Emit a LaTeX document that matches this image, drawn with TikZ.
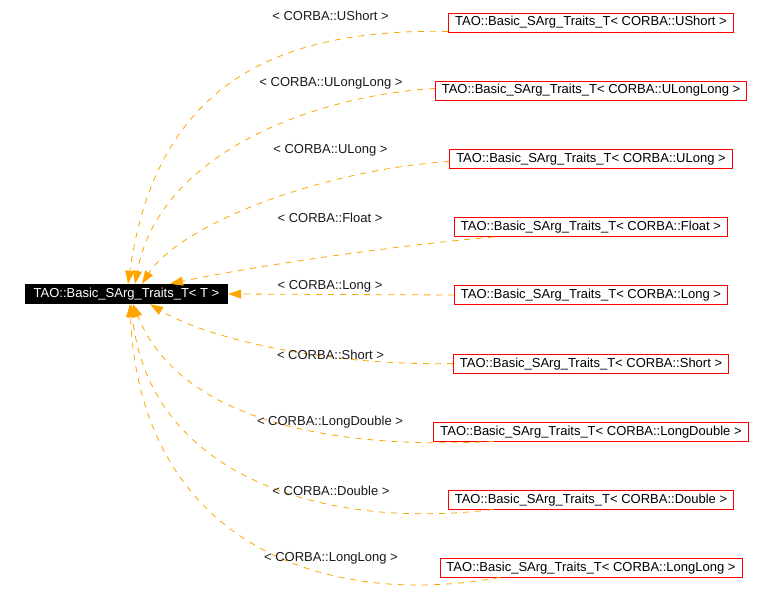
\documentclass[tikz,border=0pt]{standalone}
\usepackage{fontspec}
\setmainfont{Liberation Sans}
\usetikzlibrary{arrows.meta}
\definecolor{tmplorange}{HTML}{FFA500}

\begin{document}
\begin{tikzpicture}[x=1pt, y=-1pt,
		every node/.style={font=\fontsize{13}{15}\selectfont},
		basebox/.style={fill=black, text=white, minimum width=203pt, minimum height=20pt, inner sep=0pt, text height=9.5pt, text depth=2.5pt},
		instbox/.style={draw=red, line width=0.9pt, fill=white, minimum height=19pt, inner xsep=6.5pt, inner ysep=0pt, text height=9.5pt, text depth=2.5pt},
		tmpl/.style={draw=tmplorange, line width=0.8pt, dash pattern=on 6pt off 6pt, -{Triangle[length=13pt,width=9pt,fill=tmplorange]}},
		lbl/.style={inner sep=0pt, text=black!90}]
			%%%%% START %%%%%
			\useasboundingbox (0,0) rectangle (774,610);
			
			\node[basebox] (base) at (126.5, 294) {TAO::Basic\_SArg\_Traits\_T< T >};
			
			\node[instbox] (ushort) at (591, 22.5) {TAO::Basic\_SArg\_Traits\_T< CORBA::UShort >};
			\node[instbox] (ulonglong) at (591, 90.5) {TAO::Basic\_SArg\_Traits\_T< CORBA::ULongLong >};
			\node[instbox] (ulong) at (591, 158.5) {TAO::Basic\_SArg\_Traits\_T< CORBA::ULong >};
			\node[instbox] (float) at (591, 227) {TAO::Basic\_SArg\_Traits\_T< CORBA::Float >};
			\node[instbox] (long) at (591, 295) {TAO::Basic\_SArg\_Traits\_T< CORBA::Long >};
			\node[instbox] (short) at (591, 363.5) {TAO::Basic\_SArg\_Traits\_T< CORBA::Short >};
			\node[instbox] (longdouble) at (591, 431.5) {TAO::Basic\_SArg\_Traits\_T< CORBA::LongDouble >};
			\node[instbox] (double) at (591, 499.5) {TAO::Basic\_SArg\_Traits\_T< CORBA::Double >};
			\node[instbox] (longlong) at (591, 567.5) {TAO::Basic\_SArg\_Traits\_T< CORBA::LongLong >};
			
			\draw[tmpl] ([yshift=1pt]ushort.south west) .. controls (262, 28) and (155, 95) .. ([xshift=1.5pt]base.north);
			\draw[tmpl] ([yshift=2pt]ulonglong.west) .. controls (320, 95) and (160, 150) .. ([xshift=8.5pt]base.north);
			\draw[tmpl] ([yshift=-3pt]ulong.west) .. controls (320, 170) and (180, 225) .. ([xshift=15.5pt]base.north);
			\draw[tmpl] ([xshift=40pt]float.south west) .. controls (400, 245) and (260, 265) .. ([xshift=43.5pt]base.north);
			\draw[tmpl] (long.west) -- (base.east);
			\draw[tmpl] (short.west) .. controls (330, 366) and (210, 340) .. ([xshift=23.5pt]base.south);
			\draw[tmpl] ([xshift=60pt]longdouble.south west) .. controls (330, 450) and (180, 420) .. ([xshift=6.5pt]base.south);
			\draw[tmpl] ([xshift=45pt]double.south west) .. controls (330, 530) and (150, 480) .. ([xshift=4.5pt]base.south);
			\draw[tmpl] ([xshift=60pt]longlong.south west) .. controls (320, 610) and (140, 540) .. ([xshift=3.5pt]base.south);
			
			\node[lbl] (lushort) at (330.5, 15.5) {< CORBA::UShort >};
			\node[lbl] (lulonglong) at (331, 83) {< CORBA::ULongLong >};
			\node[lbl] (lulong) at (330.5, 150.5) {< CORBA::ULong >};
			\node[lbl] (lfloat) at (330, 218) {< CORBA::Float >};
			\node[lbl] (llong) at (330, 286) {< CORBA::Long >};
			\node[lbl] (lshort) at (330.5, 354.5) {< CORBA::Short >};
			\node[lbl] (llongdouble) at (330, 422.5) {< CORBA::LongDouble >};
			\node[lbl] (ldouble) at (331, 490.5) {< CORBA::Double >};
			\node[lbl] (llonglong) at (331, 558) {< CORBA::LongLong >};
			%%%%% END %%%%%
\end{tikzpicture}
\end{document}
